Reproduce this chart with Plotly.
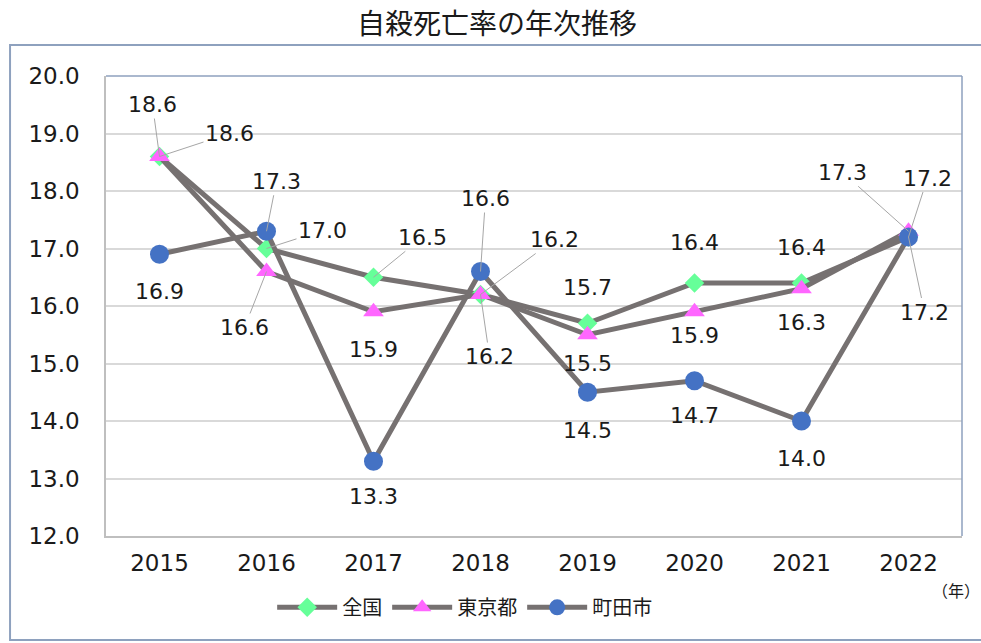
import plotly.graph_objects as go

years = ["2015", "2016", "2017", "2018", "2019", "2020", "2021", "2022"]
zenkoku = [18.6, 17.0, 16.5, 16.2, 15.7, 16.4, 16.4, 17.2]
tokyo = [18.6, 16.6, 15.9, 16.2, 15.5, 15.9, 16.3, 17.3]
machida = [16.9, 17.3, 13.3, 16.6, 14.5, 14.7, 14.0, 17.2]
y_ticks = [12, 13, 14, 15, 16, 17, 18, 19, 20]

title = "自殺死亡率の年次推移"
names = ["全国", "東京都", "町田市"]

# label offsets in pixels (dx, dy screen-down) and whether a leader line is drawn
offs_zenkoku = [(70, -23, True), (56, -18, True), (49, -40, True), (74, -55, True),
                (0, -36, False), (0, -41, False), (0, -36, False), (19, -59, True)]
offs_tokyo = [(-7, -52, True), (-22, 56, True), (0, 38, False), (9, 62, True),
              (0, 29, False), (0, 24, False), (0, 34, False), (-66, -59, True)]
offs_machida = [(0, 37, False), (10, -50, True), (0, 35, False), (5, -73, True),
                (0, 38, False), (0, 35, False), (0, 37, False), (16, 75, True)]

LINE = "#767171"
FONT = "DejaVu Sans, Noto Sans CJK JP"

fig = go.Figure()
series = [
    (names[0], zenkoku, dict(symbol="diamond", size=15, color="#66FF99"), offs_zenkoku),
    (names[1], tokyo, dict(symbol="triangle-up", size=18, color="#FF66FF"), offs_tokyo),
    (names[2], machida, dict(symbol="circle", size=19, color="#4472C4"), offs_machida),
]
annotations = []
for name, vals, mk, offs in series:
    fig.add_trace(go.Scatter(
        x=years, y=vals, name=name, mode="lines+markers",
        line=dict(color=LINE, width=5),
        marker=dict(symbol=mk["symbol"], size=mk["size"], color=mk["color"],
                    line=dict(width=0)),
        hoverinfo="skip",
    ))
    for i, (yv, (dx, dy, lead)) in enumerate(zip(vals, offs)):
        annotations.append(dict(
            x=i, y=yv, xref="x", yref="y", text=f"{yv:.1f}",
            showarrow=True, ax=dx, ay=dy, arrowhead=0, arrowwidth=1,
            arrowcolor="#A6A6A6" if lead else "rgba(0,0,0,0)", standoff=0,
            font=dict(size=22, color="#1a1a1a", family=FONT),
        ))

annotations.append(dict(x=0.993, y=-0.118, xref="paper", yref="paper", text="（年）",
                        showarrow=False, xanchor="center", yanchor="middle",
                        font=dict(size=16, color="#1a1a1a", family="Noto Sans CJK JP")))
annotations.append(dict(x=0.457, y=1.117, xref="paper", yref="paper", text=title,
                        showarrow=False, xanchor="center", yanchor="middle",
                        font=dict(size=28, color="#1a1a1a", family="Noto Sans CJK JP")))

shapes = [
    # outer border
    dict(type="rect", xref="paper", yref="paper", x0=-0.1121, x1=1.04, y0=-0.2261, y1=1.0674,
         line=dict(color="#8EA1BE", width=2), layer="below"),
    # plot frame top and right
    dict(type="line", xref="paper", yref="paper", x0=0, x1=1, y0=1, y1=1,
         line=dict(color="#8EA1BE", width=1.5)),
    dict(type="line", xref="paper", yref="paper", x0=1, x1=1, y0=0, y1=1,
         line=dict(color="#8EA1BE", width=1.5)),
]

fig.update_layout(
    width=981, height=643,
    margin=dict(l=106, r=19, t=76, b=107),
    paper_bgcolor="white", plot_bgcolor="white",
    font=dict(family=FONT, size=20, color="#1a1a1a"),
    showlegend=True,
    legend=dict(orientation="h", x=0.419, xanchor="center", y=-0.155, yanchor="middle",
                font=dict(size=20, family="Noto Sans CJK JP"), itemwidth=60,
                traceorder="normal"),
    annotations=annotations,
    shapes=shapes,
    hovermode=False,
)
fig.update_xaxes(type="category", range=[-0.5, 7.5], showgrid=False,
                 showline=True, linecolor="#BFBFBF", linewidth=1.5,
                 tickfont=dict(size=23, family=FONT), ticks="outside", ticklen=6,
                 tickcolor="rgba(0,0,0,0)")
fig.update_yaxes(range=[12, 20], tickvals=y_ticks, ticktext=[f"{v:.1f}" for v in y_ticks],
                 showgrid=True, gridcolor="#D9D9D9", gridwidth=1.5,
                 showline=True, linecolor="#BFBFBF", linewidth=1.5, zeroline=False,
                 tickfont=dict(size=23, family=FONT), ticks="outside", ticklen=20,
                 tickcolor="rgba(0,0,0,0)")

fig.write_html("out.html", config={"displayModeBar": False},
               post_script="document.body.style.margin='0';document.body.style.padding='0';")
